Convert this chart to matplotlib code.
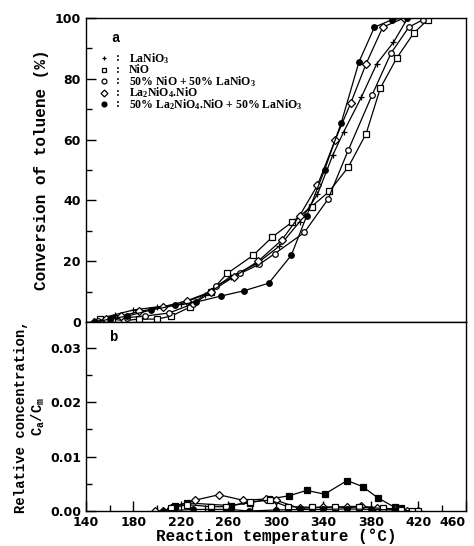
import matplotlib.pyplot as plt
from matplotlib.ticker import MultipleLocator

plt.rcParams['mathtext.fontset'] = 'custom'
plt.rcParams['mathtext.rm'] = 'Liberation Serif:bold'
plt.rcParams['mathtext.it'] = 'Liberation Serif:bold'
plt.rcParams['mathtext.default'] = 'regular'

# panel a: conversion of toluene (%) vs reaction temperature
t_lanio3 = [150, 165, 180, 200, 220, 240, 262, 283, 303, 320, 335, 348, 357, 372, 385, 399, 411]
c_lanio3 = [1, 2.5, 4, 5, 6, 9, 15, 19, 25, 33, 42, 55, 62.5, 74, 85, 92, 100]

t_nio = [152, 162, 172, 185, 200, 212, 228, 245, 259, 281, 297, 314, 330, 345, 361, 376, 388, 402, 416, 428]
c_nio = [1, 1, 0.5, 1, 1, 2, 5, 10, 16, 22, 28, 33, 38, 43, 51, 62, 77, 87, 95, 99.5]

t_mix1 = [150, 160, 175, 190, 210, 230, 250, 270, 286, 299, 324, 344, 361, 381, 397, 412, 424]
c_mix1 = [0.5, 1, 1.5, 2, 3, 6, 12, 16, 19, 22.5, 29.5, 40.5, 56.6, 74.7, 88.5, 97, 99.5]

t_la2 = [147, 157, 170, 185, 205, 225, 245, 265, 285, 305, 320, 335, 350, 363, 376, 390, 408]
c_la2 = [0, 1, 2, 3.5, 5, 7, 10, 15, 20, 27, 35, 45, 60, 72, 85, 97, 100]

t_mix2 = [148, 160, 175, 195, 215, 233, 254, 273, 294, 313, 326, 341, 355, 370, 383, 398, 410]
c_mix2 = [0, 1, 2, 4, 5.5, 6.6, 8.6, 10.3, 12.8, 22, 35, 50, 65.5, 85.6, 97, 99.5, 100]

# panel b: relative concentration Ca/Cm
tb_sq = [215, 225, 262, 278, 294, 311, 326, 341, 360, 373, 386, 400, 405]
cb_sq = [0.001, 0.0015, 0.001, 0.0015, 0.0022, 0.0028, 0.0038, 0.0031, 0.0056, 0.0045, 0.0024, 0.0007, 0.0006]

tb_dia = [198, 205, 212, 232, 252, 272, 292, 300, 320, 340, 360, 372, 385, 400, 410, 420]
cb_dia = [0, 0, 0.0006, 0.002, 0.003, 0.002, 0.0022, 0.002, 0.0005, 0.0007, 0.0008, 0.0009, 0.0006, 0.0004, 0.0001, 0.0001]

tb_osq = [212, 225, 245, 258, 278, 295, 310, 330, 350, 370, 390, 405, 415, 420]
cb_osq = [0.0005, 0.0012, 0.0008, 0.0008, 0.0017, 0.002, 0.0008, 0.0007, 0.0007, 0.0007, 0.0005, 0.0002, 0.0, 0.0]

tb_dot = [205, 230, 262, 277, 300, 320, 340, 360, 380, 400]
cb_dot = [0.0, 0.0003, 0.0003, 0.0, 0.0002, 0.0003, 0.0003, 0.0004, 0.0003, 0.0002]

legend_labels = ['LaNiO$_3$', 'NiO', '50% NiO + 50% LaNiO$_3$',
                 'La$_2$NiO$_4$.NiO', '50% La$_2$NiO$_4$.NiO + 50% LaNiO$_3$']
legend_markers = ['+', 's', 'o', 'D', 'o']
legend_faces = ['k', 'white', 'white', 'white', 'k']

fig = plt.figure(figsize=(4.74, 5.46), dpi=100)
ax1 = fig.add_axes([0.181, 0.410, 0.802, 0.557])
ax2 = fig.add_axes([0.181, 0.064, 0.802, 0.346])

lw = 0.9
ms = 4
kw = dict(color='k', lw=lw, ms=ms, mec='k', mew=0.9)
ax1.plot(t_lanio3, c_lanio3, marker='+', **kw)
ax1.plot(t_nio, c_nio, marker='s', mfc='white', **kw)
ax1.plot(t_mix1, c_mix1, marker='o', mfc='white', **kw)
ax1.plot(t_la2, c_la2, marker='D', mfc='white', **kw)
ax1.plot(t_mix2, c_mix2, marker='o', mfc='k', **kw)

ax2.plot(tb_sq, cb_sq, marker='s', mfc='k', **kw)
ax2.plot(tb_dia, cb_dia, marker='D', mfc='white', **kw)
ax2.plot(tb_osq, cb_osq, marker='s', mfc='white', **kw)
ax2.plot(tb_dot, cb_dot, marker='o', mfc='k', **kw)

for ax in (ax1, ax2):
    ax.set_xlim(140, 460)
    ax.xaxis.set_major_locator(MultipleLocator(40))
    ax.xaxis.set_minor_locator(MultipleLocator(20))
    ax.tick_params(which='both', direction='in', width=1, labelsize=9)
    ax.tick_params(which='major', length=7)
    ax.tick_params(which='minor', length=4)
    for s in ax.spines.values():
        s.set_linewidth(1)

ax1.set_ylim(0, 100)
ax1.yaxis.set_major_locator(MultipleLocator(20))
ax1.yaxis.set_minor_locator(MultipleLocator(10))
ax1.tick_params(axis='x', which='both', bottom=False, labelbottom=False)
ax1.set_ylabel('Conversion of toluene (%)', family='Liberation Mono',
               fontweight='bold', fontsize=11.5, labelpad=4)
for lab in ax1.get_yticklabels():
    lab.set_fontweight('bold')

ax2.set_ylim(0, 0.0347)
ax2.yaxis.set_minor_locator(MultipleLocator(0.005))
ax2.set_yticks([0, 0.01, 0.02, 0.03])
ax2.set_yticklabels(['0.00', '0.01', '0.02', '0.03'], fontweight='bold')
ax2.set_xticks(range(140, 461, 40))
ax2.set_xticklabels([str(v) for v in range(140, 461, 40)], fontweight='bold')
ax2.get_xticklabels()[-1].set_horizontalalignment('right')
ax2.get_xticklabels()[-1].set_x(462)
ax2.set_xlabel('Reaction temperature (°C)', family='Liberation Mono',
               fontweight='bold', fontsize=11.5, labelpad=0)
ax2.set_ylabel('Relative concentration,\nC$_a$/C$_m$', family='Liberation Mono',
               fontweight='bold', fontsize=10, labelpad=2, linespacing=1.1)

ax1.text(0.068, 0.935, 'a', transform=ax1.transAxes, fontsize=10, fontweight='bold',
         family='Liberation Mono', va='center')
ax2.text(0.063, 0.92, 'b', transform=ax2.transAxes, fontsize=10, fontweight='bold',
         family='Liberation Mono', va='center')

ys = [0.868, 0.830, 0.792, 0.754, 0.716]
for y, lab, m, fc in zip(ys, legend_labels, legend_markers, legend_faces):
    ax1.plot([0.047], [y], marker=m, mfc=fc, mec='k', ms=3.5, mew=0.9,
             transform=ax1.transAxes, clip_on=False)
    ax1.text(0.08, y, ':', transform=ax1.transAxes, va='center', fontsize=8.5,
             family='Liberation Serif', fontweight='bold')
    ax1.text(0.113, y, lab, transform=ax1.transAxes, va='center', fontsize=8.5,
             family='Liberation Serif', fontweight='bold')

fig.savefig('out.png', dpi=100)
